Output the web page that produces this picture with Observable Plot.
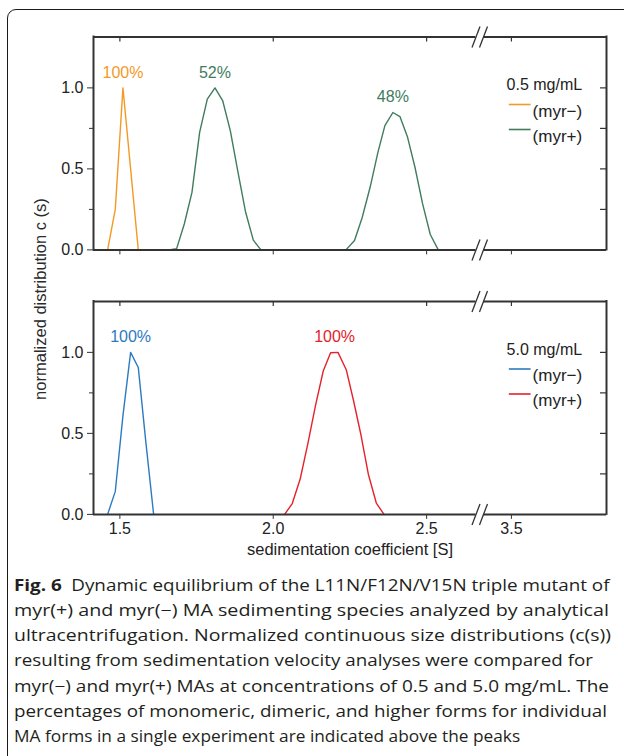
<!DOCTYPE html>
<html><head><meta charset="utf-8">
<script src="https://cdn.jsdelivr.net/npm/d3@7"></script>
<script src="https://cdn.jsdelivr.net/npm/@observablehq/plot@0.6"></script>
<style>
html,body{margin:0;padding:0;background:#fff;}
body{width:624px;height:756px;position:relative;overflow:hidden;font-family:"Liberation Sans",Arial,sans-serif;}
#box{position:absolute;left:7px;top:9px;width:720px;height:800px;border:1.6px solid #1a1a1a;border-radius:9px 0 0 0;box-sizing:border-box;}
#top{position:absolute;left:0;top:0;}
#bot{position:absolute;left:0;top:270px;}
#ylab{position:absolute;left:40px;top:299px;transform:translate(-50%,-50%) rotate(-90deg);white-space:nowrap;font-size:16.5px;color:#2a2a2a;}
#cap{position:absolute;left:13.5px;top:572.5px;font-family:"Open Sans",sans-serif;font-size:15.5px;line-height:25.3px;color:#231f20;}
#cap div{white-space:nowrap;transform-origin:0 0;width:max-content;}
</style></head>
<body>
<div id="box"></div>
<div id="top"></div>
<div id="bot"></div>
<div id="ylab">normalized distribution c (s)</div>
<div id="cap"></div>
<script>
// ---------- data ----------
const seriesNames = ["(myr\u2212)", "(myr+)"];

// 0.5 mg/mL
const top_minus_s = [1.46, 1.485, 1.51, 1.535, 1.56];
const top_minus_c = [0, 0.25, 1.0, 0.5, 0];
const top_plus_s = [1.66, 1.685, 1.71, 1.735, 1.76, 1.785, 1.81, 1.835, 1.86, 1.885, 1.91, 1.935, 1.96,
                    2.237, 2.265, 2.29, 2.316, 2.341, 2.364, 2.39, 2.413, 2.438, 2.462, 2.487, 2.512, 2.538];
const top_plus_c = [0, 0.008, 0.16, 0.355, 0.725, 0.93, 1.0, 0.922, 0.736, 0.48, 0.232, 0.06, 0,
                    0, 0.058, 0.2, 0.388, 0.6, 0.767, 0.848, 0.823, 0.695, 0.51, 0.284, 0.095, 0];
const top_label_text = ["100%", "52%", "48%"];
const top_label_s = [1.51, 1.81, 2.39];
const top_label_c = [1.0, 1.0, 0.848];
const top_label_series = [0, 1, 1];

// 5.0 mg/mL
const bot_minus_s = [1.46, 1.485, 1.51, 1.535, 1.56, 1.585, 1.61];
const bot_minus_c = [0, 0.142, 0.61, 1.0, 0.907, 0.44, 0];
const bot_plus_s = [2.037, 2.062, 2.088, 2.113, 2.138, 2.163, 2.187, 2.211, 2.238, 2.262, 2.286, 2.31, 2.336, 2.361];
const bot_plus_c = [0, 0.067, 0.22, 0.438, 0.675, 0.885, 0.998, 1.0, 0.893, 0.70, 0.49, 0.248, 0.07, 0];
const bot_label_text = ["100%", "100%"];
const bot_label_s = [1.535, 2.2];
const bot_label_c = [1.0, 1.0];
const bot_label_series = [0, 1];

// axes
const xTicks = [1.5, 2.0, 2.5, 3.5];
const yMajorTicks = [0, 0.5, 1.0];
const yMinorTicks = [0.25, 0.75];
const xDomain = [1.414, 2.661, 3.409, 3.81];   // broken axis: two segments
const yMax = 1.314;

// ---------- helpers ----------
function rows(s, c, name) { return s.map((v, i) => ({s: v, c: c[i], series: name})); }
function labelRows(t, s, c, k) { return t.map((v, i) => ({text: v, s: s[i], c: c[i], series: seriesNames[k[i]]})); }

const ink = "#333";
const W = 624, ML = 93, MR = 18;
const slash = {draw(ctx) { ctx.moveTo(-4, 10.5); ctx.lineTo(4, -10.5); }};
const dash = {draw(ctx) { ctx.moveTo(-10.9, 0); ctx.lineTo(10.9, 0); }};

function panel({lines, labels, title, colors, height, marginTop, marginBottom, xLabels}) {
  const frameH = height - marginTop - marginBottom;
  const frameW = W - ML - MR;
  const xRange = [ML, 475.5, 483, W - MR];
  const breaks = [{s: xDomain[1], c: 0}, {s: xDomain[1], c: yMax}, {s: xDomain[2], c: 0}, {s: xDomain[2], c: yMax}];
  const marks = [
    Plot.line(lines, {x: "s", y: "c", z: "series", stroke: "series", strokeWidth: 1.4}),
    Plot.text(labels, {x: "s", y: "c", text: "text", fill: "series", dy: -15.3, fontSize: 16}),
    // frame with a break
    Plot.ruleY([0, yMax], {x1: xDomain[0], x2: xDomain[1], stroke: ink, strokeWidth: 2}),
    Plot.ruleY([0, yMax], {x1: xDomain[2], x2: xDomain[3], stroke: ink, strokeWidth: 2}),
    Plot.ruleX([xDomain[0], xDomain[3]], {y1: 0, y2: yMax, stroke: ink, strokeWidth: 2, strokeLinecap: "square"}),
    Plot.dot(breaks, {x: "s", y: "c", symbol: slash, fill: "none", stroke: ink, strokeWidth: 1.3}),
    // axes
    Plot.axisY({anchor: "left", ticks: yMajorTicks, tickSize: 6, tickPadding: 4, tickFormat: ".1f", fontSize: 16, label: null, stroke: ink, fill: "#222"}),
    Plot.axisY({anchor: "left", ticks: yMinorTicks, tickSize: 4, tickFormat: () => null, label: null, stroke: ink}),
    Plot.tickY(yMajorTicks.filter(d => d > 0).concat(yMinorTicks), {y: d => d, insetLeft: frameW - 6, stroke: ink, strokeWidth: 1.2}),
    Plot.axisX({anchor: "bottom", ticks: xTicks, tickSize: 5, tickPadding: 3, tickFormat: xLabels ? ".1f" : () => null, fontSize: 16, label: null, stroke: ink, fill: "#222"}),
    Plot.tickX(xTicks, {x: d => d, insetBottom: frameH - 5, stroke: ink, strokeWidth: 1.2}),
    // legend
    Plot.text([title], {frameAnchor: "top-right", dx: -24.3, dy: 42, textAnchor: "end", fontSize: 16, fill: "#222"}),
    ...seriesNames.map((name, i) => Plot.text([name], {frameAnchor: "top-right", dx: -24.3, dy: 67.5 + 25 * i, textAnchor: "end", fontSize: 17, fill: "#222"})),
    ...seriesNames.map((name, i) => Plot.dot([name], {frameAnchor: "top-right", dx: -86.8, dy: 67.5 + 25 * i, symbol: dash, fill: "none", stroke: d => d, strokeWidth: 1.6}))
  ];
  if (xLabels) marks.push(Plot.text(["sedimentation coefficient [S]"], {frameAnchor: "bottom", dy: 40.5, fontSize: 16.5, fill: "#222"}));
  return Plot.plot({
    width: W, height, marginLeft: ML, marginRight: MR, marginTop, marginBottom,
    style: {fontFamily: "'Liberation Sans', Arial, sans-serif", fontSize: "16px", color: "#222", background: "transparent", overflow: "visible"},
    x: {type: "linear", domain: xDomain, range: xRange, label: null},
    y: {domain: [0, yMax], label: null},
    color: {domain: seriesNames, range: colors},
    marks
  });
}

document.getElementById("top").append(panel({
  lines: rows(top_minus_s, top_minus_c, seriesNames[0]).concat(rows(top_plus_s, top_plus_c, seriesNames[1])),
  labels: labelRows(top_label_text, top_label_s, top_label_c, top_label_series),
  title: "0.5 mg/mL", colors: ["#F39A26", "#407C5D"],
  height: 270, marginTop: 36.5, marginBottom: 20.6, xLabels: false
}));
document.getElementById("bot").append(panel({
  lines: rows(bot_minus_s, bot_minus_c, seriesNames[0]).concat(rows(bot_plus_s, bot_plus_c, seriesNames[1])),
  labels: labelRows(bot_label_text, bot_label_s, bot_label_c, bot_label_series),
  title: "5.0 mg/mL", colors: ["#2D7AC0", "#E4222C"],
  height: 300, marginTop: 31, marginBottom: 56.1, xLabels: true
}));

// ---------- caption ----------
const captionLines = [
  "<b>Fig.\u00a06</b>\u2002Dynamic equilibrium of the L11N/F12N/V15N triple mutant of",
  "myr(+) and myr(\u2212) MA sedimenting species analyzed by analytical",
  "ultracentrifugation. Normalized continuous size distributions (c(s))",
  "resulting from sedimentation velocity analyses were compared for",
  "myr(\u2212) and myr(+) MAs at concentrations of 0.5 and 5.0 mg/mL. The",
  "percentages of monomeric, dimeric, and higher forms for individual",
  "MA forms in a single experiment are indicated above the peaks"
];
const captionWidths = [595.5, 595, 597, 579, 595, 593, 477.5];
const cap = document.getElementById("cap");
const divs = captionLines.map(t => {
  const d = document.createElement("div");
  d.innerHTML = t;
  cap.append(d);
  return d;
});
const natural = divs.map(d => d.getBoundingClientRect().width);
const lineRatios = natural.map((w, i) => captionWidths[i] / w);
const sMed = d3.median(lineRatios.slice(0, 6));
divs.forEach((d, i) => {
  const r = i === 6 ? Math.min(sMed, lineRatios[i] * 1.06) : Math.max(sMed * 0.95, Math.min(sMed * 1.05, lineRatios[i]));
  d.style.transform = `scaleX(${r})`;
});
</script>
</body></html>
